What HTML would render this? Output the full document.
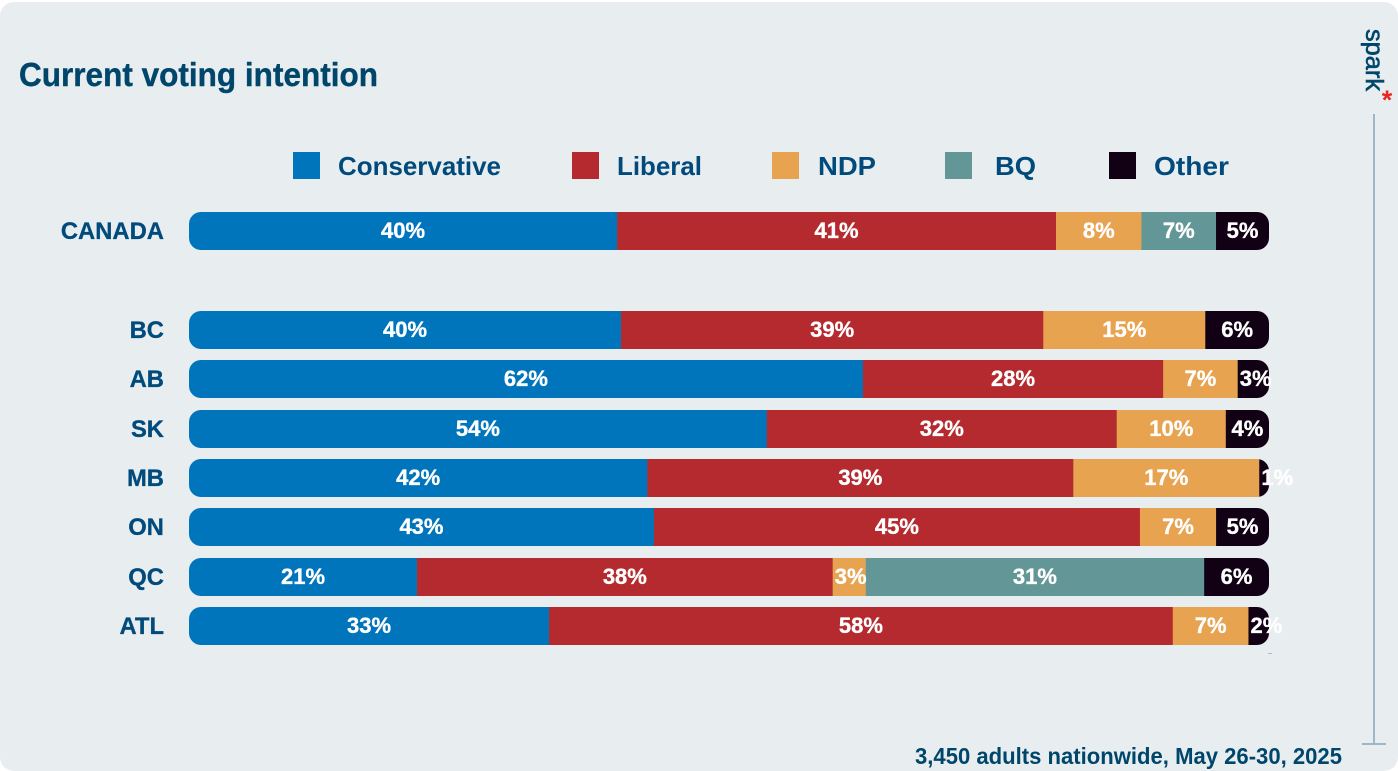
<!DOCTYPE html>
<html lang="en">
<head>
<meta charset="utf-8">
<title>Current voting intention</title>
<style>
html,body{margin:0;padding:0;background:#fff;width:1398px;height:771px;overflow:hidden}
svg{display:block;font-family:"Liberation Sans",sans-serif}
</style>
</head>
<body>
<svg id="chart" width="1398" height="771" viewBox="0 0 1398 771" xmlns="http://www.w3.org/2000/svg">
  <rect x="0" y="2" width="1398" height="769" rx="14" fill="#e8edf0"/>
  <text x="19" y="86" font-size="33" font-weight="700" fill="#00466b" stroke="#00466b" stroke-width="0.4" textLength="359" lengthAdjust="spacingAndGlyphs">Current voting intention</text>
  <g id="legend"></g>
  <g id="rows"></g>
  <rect x="1268" y="653" width="4" height="1" fill="#a9bccb"/>
  <g>
    <text transform="translate(1366 29) rotate(90)" font-size="25" fill="#00466b" stroke="#00466b" stroke-width="0.6" textLength="62" lengthAdjust="spacingAndGlyphs">spark</text>
    <text x="1387" y="109" font-size="27" font-weight="700" fill="#e8261f" text-anchor="middle">*</text>
  </g>
  <line x1="1374" y1="114" x2="1374" y2="744" stroke="#9fb6c7" stroke-width="2"/>
  <line x1="1362" y1="744" x2="1386" y2="744" stroke="#9fb6c7" stroke-width="2"/>
  <text x="915" y="764" font-size="23" font-weight="700" fill="#00466b" textLength="427" lengthAdjust="spacingAndGlyphs">3,450 adults nationwide, May 26-30, 2025</text>
</svg>
<script>
// Chart data
const regions = ['CANADA', 'BC', 'AB', 'SK', 'MB', 'ON', 'QC', 'ATL'];
const parties = ['Conservative', 'Liberal', 'NDP', 'BQ', 'Other'];
const conservative = [39.6, 40, 62.4, 53.5, 42.4, 43.05, 21.1, 33.3];
const liberal = [40.6, 39.1, 27.8, 32.4, 39.4, 45, 38.47, 57.7];
const ndp = [7.9, 15, 6.9, 10.1, 17.2, 7.05, 3.06, 7];
const bq = [6.9, 0, 0, 0, 0, 0, 31.32, 0];
const other = [4.9, 5.9, 2.9, 4, 0.9, 4.9, 6, 1.9];
const seriesValues = [conservative, liberal, ndp, bq, other];

// Presentation
const colors = ['#0175bc', '#b42a2e', '#e8a350', '#639797', '#120015'];
const NS = 'http://www.w3.org/2000/svg';
const plotLeft = 189, plotWidth = 1080, barHeight = 38, barRadius = 12;
const legendSwatchX = [293, 572, 772, 945, 1109];
const legendTextX = [338, 617, 818, 995, 1154];
const legendTextW = [163, 85, 58, 41, 75];

function make(tag, attrs, parent) {
  const el = document.createElementNS(NS, tag);
  for (const k in attrs) el.setAttribute(k, attrs[k]);
  parent.appendChild(el);
  return el;
}
function slug(s) { return s.toLowerCase(); }
// Row band: the Canada row stands apart from the provinces
function rowTop(i) {
  return i === 0 ? 212 : 311 + (i - 1) * 49.33;
}
function xScale(share, total) {
  return share / total * plotWidth;
}

const legend = document.getElementById('legend');
parties.forEach(function (p, i) {
  const sw = make('rect', { x: legendSwatchX[i], y: 152, width: 27, height: 27, fill: colors[i] }, legend);
  
  
  const t = make('text', { x: legendTextX[i], y: 175, 'font-size': 26, 'font-weight': 700, fill: '#004a7c', textLength: legendTextW[i], lengthAdjust: 'spacingAndGlyphs' }, legend);
  
  
  t.textContent = p;
});

const rows = document.getElementById('rows');
regions.forEach(function (region, r) {
  const top = Math.round(rowTop(r));
  const g = make('g', {}, rows);
  
  

  const lab = make('text', { x: 164, y: top + 27, 'text-anchor': 'end', 'font-size': 23.8, 'font-weight': 700, fill: '#004a7c', stroke: '#004a7c', 'stroke-width': 0.3 }, g);
  
  
  lab.textContent = region;

  const clip = make('clipPath', { id: 'clip-' + r }, g);
  make('rect', { x: plotLeft, y: top, width: plotWidth, height: barHeight, rx: barRadius }, clip);
  const barGroup = make('g', { 'clip-path': 'url(#clip-' + r + ')' }, g);
  const labelGroup = make('g', {}, g);

  const total = seriesValues.reduce(function (a, s) { return a + s[r]; }, 0);
  let x = plotLeft;
  seriesValues.forEach(function (s, i) {
    const v = s[r];
    if (!v) return;
    const w = xScale(v, total);
    const seg = make('rect', { x: x, y: top, width: w + (i === 4 ? 0 : 0.3), height: barHeight, fill: colors[i] }, barGroup);
    
    

    const txt = String(Math.round(v)) + '%';
    const textW = 32;
    const start = Math.max(x + w / 2 - textW / 2, x + 2);
    const val = make('text', { x: start + textW / 2, y: top + 26, 'text-anchor': 'middle', 'font-size': 22, 'font-weight': 700, fill: '#fff', stroke: '#fff', 'stroke-width': 0.35 }, labelGroup);
    
    
    val.textContent = txt;
    x += w;
  });
});
</script>
</body>
</html>
